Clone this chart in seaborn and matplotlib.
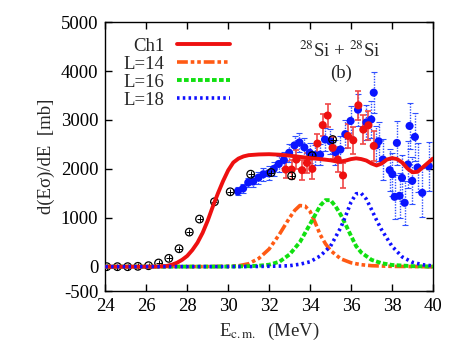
import numpy as np
import pandas as pd
import matplotlib
matplotlib.use("Agg")
import matplotlib.pyplot as plt
import seaborn as sns

# ---------------- data ----------------
# Ch1 calculation (red solid)
ch1_E = [24.0, 25.0, 26.0, 26.5, 27.0, 27.25, 27.5, 27.75, 28.0, 28.25, 28.5, 28.75,
         29.0, 29.25, 29.5, 29.75, 30.0, 30.25, 30.5, 30.75, 31.0, 31.5, 32.0, 32.5,
         33.0, 33.5, 34.0, 34.5, 35.0, 35.25, 35.5, 35.75, 36.0, 36.25, 36.5, 36.75,
         37.0, 37.25, 37.5, 37.75, 38.0, 38.25, 38.5, 38.75, 39.0, 39.25, 39.5, 39.75, 40.0]
ch1_V = [0, 0, 0, 2, 15, 40, 80, 140, 220, 340, 490, 690,
         940, 1230, 1500, 1750, 1970, 2130, 2210, 2255, 2280, 2295, 2300, 2290,
         2270, 2245, 2220, 2200, 2175, 2155, 2150, 2170, 2200, 2215, 2200, 2170,
         2110, 2070, 2110, 2190, 2220, 2200, 2130, 2010, 1930, 1940, 2030, 2120, 2210]

# L=14 partial wave (orange dash-dot)
l14_E = [24.0, 29.0, 30.0, 30.5, 31.0, 31.5, 32.0, 32.5, 33.0, 33.25, 33.5, 33.75,
         34.0, 34.25, 34.5, 34.75, 35.0, 35.5, 36.0, 36.5, 37.0, 38.0, 39.0, 40.0]
l14_V = [0, 2, 8, 18, 60, 170, 360, 660, 1000, 1150, 1250, 1240,
         1130, 900, 650, 470, 330, 160, 80, 40, 20, 6, 2, 0]

# L=16 partial wave (green dashed)
l16_E = [24.0, 30.0, 31.0, 31.5, 32.0, 32.5, 33.0, 33.5, 34.0, 34.5, 34.75, 35.0,
         35.25, 35.5, 35.75, 36.0, 36.25, 36.5, 37.0, 37.5, 38.0, 39.0, 40.0]
l16_V = [0, 2, 10, 20, 40, 100, 250, 500, 870, 1250, 1360, 1360,
         1230, 1060, 850, 630, 420, 290, 140, 70, 35, 10, 3]

# L=18 partial wave (blue dotted)
l18_E = [24.0, 31.0, 32.0, 32.5, 33.0, 33.5, 34.0, 34.5, 35.0, 35.5, 35.75, 36.0,
         36.25, 36.5, 36.75, 37.0, 37.25, 37.5, 38.0, 38.5, 39.0, 39.5, 40.0]
l18_V = [0, 2, 8, 12, 20, 50, 100, 220, 420, 800, 1050, 1320,
         1490, 1500, 1380, 1170, 950, 750, 420, 200, 90, 40, 15]

# experimental data, blue filled circles
blue_E = [30.47, 30.73, 30.98, 31.22, 31.48, 31.72, 31.97, 32.23, 32.47, 32.72, 32.98,
          33.24, 33.48, 33.72, 33.98, 34.23, 34.49, 34.73, 34.99, 35.24, 35.48, 35.72,
          35.98, 36.34, 36.75, 36.99, 37.11, 37.24, 37.35, 37.56, 37.89, 38.02, 38.13,
          38.24, 38.37, 38.49, 38.62, 38.78, 38.86, 38.99, 39.12, 39.25, 39.48, 39.80]
blue_V = [1540, 1600, 1720, 1740, 1820, 1890, 1910, 2000, 2100, 2180, 2330,
          2480, 2540, 2440, 2330, 2280, 2290, 2600, 2560, 2340, 2395, 2710,
          2980, 3210, 2950, 3010, 3558, 2483, 2565, 2191, 1973, 1891, 1428,
          2530, 1449, 1816, 1306, 2089, 2877, 1755, 2653, 2028, 1510, 2055]
blue_err = [80, 90, 100, 110, 120, 130, 140, 150, 160, 170, 180,
            190, 200, 200, 200, 210, 220, 230, 250, 260, 270, 280,
            300, 330, 350, 380, 420, 400, 400, 420, 430, 440, 450,
            450, 460, 470, 450, 480, 470, 480, 490, 500, 500, 500]

# experimental data, red filled circles
red_E = [32.81, 33.10, 33.33, 33.61, 33.85, 34.11, 34.36, 34.62, 34.86, 35.10, 35.35,
         35.61, 35.85, 36.11, 36.36, 36.60, 36.85, 37.11]
red_V = [1986, 1986, 2190, 1973, 2122, 2000, 2517, 2895, 3090, 2430, 2190,
         1865, 2673, 2585, 3299, 2803, 2891, 2469]
red_err = [170, 200, 200, 200, 200, 200, 200, 220, 230, 230, 250,
           260, 250, 280, 300, 300, 300, 300]

# experimental data, black open circles
blk_E = [24.07, 24.59, 25.09, 25.59, 26.11, 26.60, 27.10, 27.60, 28.10, 28.60, 29.33,
         30.10, 31.10, 32.10, 33.10, 34.10, 35.10]
blk_V = [0, 0, 0, 7, 20, 75, 170, 367, 707, 973, 1327,
         1531, 1891, 1925, 1857, 2270, 2600]

xticks = [24, 26, 28, 30, 32, 34, 36, 38, 40]
yticks = [-500, 0, 1000, 2000, 3000, 4000, 5000]
legend_labels = ["Ch1", "L=14", "L=16", "L=18"]

# ---------------- style ----------------
sns.set_style("ticks")
plt.rcParams["font.family"] = ["Liberation Serif", "DejaVu Serif"]
plt.rcParams["mathtext.fontset"] = "stix"
plt.rcParams["axes.unicode_minus"] = False

fig = plt.figure(figsize=(4.63, 3.63), dpi=100)
ax = fig.add_axes([0.2275, 0.198, 0.7075, 0.741])

fs = 13.5

# error bars
eb_b = ax.errorbar(blue_E, blue_V, yerr=blue_err, fmt="none", ecolor="#3050ff",
                   elinewidth=1.0, capsize=2.2, capthick=0.8, zorder=2)
eb_b[2][0].set_linestyle((0, (1, 1)))
ax.errorbar(red_E, red_V, yerr=red_err, fmt="none", ecolor="#f04848",
            elinewidth=1.2, capsize=2.5, capthick=1.2, zorder=3)

df_b = pd.DataFrame({"E": blue_E, "V": blue_V})
df_r = pd.DataFrame({"E": red_E, "V": red_V})
df_k = pd.DataFrame({"E": blk_E, "V": blk_V})
sns.scatterplot(data=df_b, x="E", y="V", ax=ax, color="#0a14ff", s=34,
                edgecolor="none", zorder=3, legend=False)
sns.scatterplot(data=df_r, x="E", y="V", ax=ax, color="#ee1010", s=34,
                edgecolor="none", zorder=4, legend=False)
sns.scatterplot(data=df_k, x="E", y="V", ax=ax, facecolor="none", edgecolor="black",
                s=30, linewidth=0.9, zorder=5, legend=False)
sns.scatterplot(data=df_k, x="E", y="V", ax=ax, color="black", marker="+",
                s=14, linewidth=0.7, zorder=5, legend=False)

# curves
sns.lineplot(x=l14_E, y=l14_V, ax=ax, color="#ff5a14", lw=2.6, sort=False,
             estimator=None, linestyle=(0, (3, 0.8, 1, 0.8, 1, 0.8)), zorder=6)
sns.lineplot(x=l16_E, y=l16_V, ax=ax, color="#10e010", lw=2.8, sort=False,
             estimator=None, linestyle=(0, (1.2, 0.6)), zorder=6)
sns.lineplot(x=l18_E, y=l18_V, ax=ax, color="#1010ff", lw=2.6, sort=False,
             estimator=None, linestyle=(0, (0.7, 0.9)), zorder=7)
sns.lineplot(x=ch1_E, y=ch1_V, ax=ax, color="#ee1010", lw=2.8, sort=False,
             estimator=None, zorder=6)

lines = ax.get_lines()
handles = [lines[-1], lines[-4], lines[-3], lines[-2]]
ax.legend(handles, legend_labels, loc="upper left", bbox_to_anchor=(0.02, 0.985),
          frameon=False, markerfirst=False, fontsize=fs, handlelength=2.8,
          handletextpad=0.7, labelspacing=0.05, borderaxespad=0.2)

ax.text(0.717, 0.895, r"$^{28}$Si + $^{28}$Si", transform=ax.transAxes,
        ha="center", va="center", fontsize=fs)
ax.text(0.72, 0.81, "(b)", transform=ax.transAxes, ha="center", va="center",
        fontsize=fs)

ax.set_xlim(24, 40)
ax.set_ylim(-500, 5000)
ax.set_xticks(xticks)
ax.set_yticks(yticks)
ax.tick_params(direction="in", length=5, width=1, top=True, right=True,
               labelsize=fs, pad=5, colors="black")
for s in ax.spines.values():
    s.set_visible(True)
    s.set_linewidth(1.0)
    s.set_color("black")

ax.set_xlabel(r"E$_{\mathrm{c.m.}}$  (MeV)", fontsize=fs, labelpad=4)
ax.set_ylabel("d(Eσ)/dE  [mb]", fontsize=fs, labelpad=4)

fig.savefig("out.png", dpi=100)
